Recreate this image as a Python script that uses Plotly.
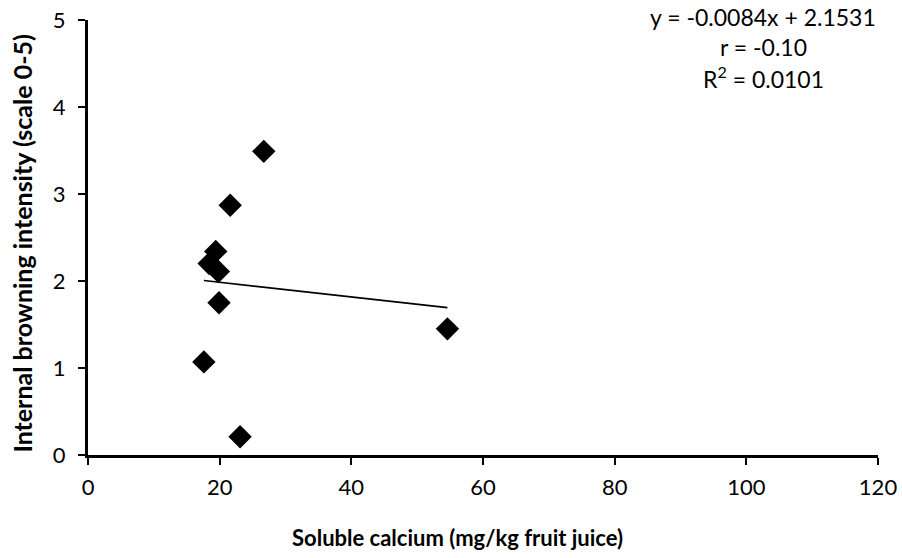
import plotly.graph_objects as go

# Data
calcium = [26.7, 21.6, 19.4, 18.4, 19.8, 19.9, 17.6, 23.1, 54.6]
browning = [3.49, 2.87, 2.34, 2.20, 2.11, 1.75, 1.07, 0.21, 1.45]
slope = -0.0084
intercept = 2.1531
eq_lines = ["y = -0.0084x + 2.1531", "r = -0.10", "R<sup>2</sup> = 0.0101"]
x_ticks = [0, 20, 40, 60, 80, 100, 120]
y_ticks = [0, 1, 2, 3, 4, 5]

x_fit = [min(calcium), max(calcium)]
y_fit = [slope * v + intercept for v in x_fit]

FONT = "Lato"

fig = go.Figure()
fig.add_trace(go.Scatter(
    x=x_fit, y=y_fit, mode="lines",
    line=dict(color="black", width=1.6), showlegend=False, hoverinfo="skip"))
fig.add_trace(go.Scatter(
    x=calcium, y=browning, mode="markers",
    marker=dict(symbol="diamond", size=18, color="black"), showlegend=False))

fig.update_layout(
    width=902, height=558,
    margin=dict(l=88, r=24, t=20, b=103),
    paper_bgcolor="white", plot_bgcolor="white",
    font=dict(family=FONT, color="black", size=20),
    xaxis=dict(range=[0, 120], tickvals=x_ticks, showgrid=False, zeroline=False,
               showline=True, linecolor="black", linewidth=3, automargin=False,
               ticks="outside", ticklen=7, tickwidth=2, tickcolor="black",
               tickfont=dict(family=FONT, size=22), ticklabelstandoff=4),
    yaxis=dict(range=[0, 5], tickvals=y_ticks, showgrid=False, zeroline=False,
               showline=True, linecolor="black", linewidth=3, automargin=False,
               ticks="outside", ticklen=7, tickwidth=2, tickcolor="black",
               tickfont=dict(family=FONT, size=22), ticklabelstandoff=8),
)

fig.add_annotation(
    text="<b>Soluble calcium (mg/kg fruit juice)</b>",
    xref="paper", yref="paper", x=0.468, y=-0.189,
    xanchor="center", yanchor="middle", showarrow=False,
    font=dict(family=FONT, size=22))
fig.add_annotation(
    text="<b>Internal browning intensity (scale 0-5)</b>",
    xref="paper", yref="paper", x=-0.083, y=0.487, textangle=-90,
    xanchor="center", yanchor="middle", showarrow=False,
    font=dict(family=FONT, size=25))

for i, line in enumerate(eq_lines):
    fig.add_annotation(
        text=line, xref="paper", yref="paper",
        x=(763 - 88) / 790, y=(455 - (17 + 30 * i)) / 435,
        xanchor="center", yanchor="middle", showarrow=False,
        font=dict(family=FONT, size=23))

fig.write_html("out.html")
